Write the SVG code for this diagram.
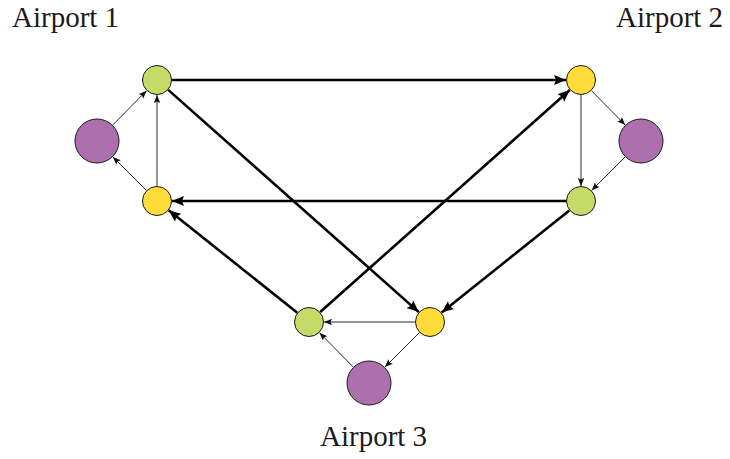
<svg xmlns="http://www.w3.org/2000/svg" width="730" height="459" viewBox="0 0 730 459">
  <style>
    .label { font-family: "Liberation Serif", "DejaVu Serif", serif; font-size: 29px; fill: #1a1a1a; }
    .node circle { stroke: #1a1a1a; stroke-width: 1; }
    .green { fill: #c6da6a; }
    .yellow { fill: #ffdc3a; }
    .purple { fill: #ae70ad; }
    .thin { stroke: #111; stroke-width: 0.9; fill: none; marker-end: url(#headThin); }
    .thick { stroke: #000; stroke-width: 2.6; fill: none; marker-end: url(#headThick); }
  </style>
  <defs>
    <marker id="headThin" markerUnits="userSpaceOnUse" markerWidth="9" markerHeight="7" refX="8" refY="3.25" orient="auto">
      <path d="M0,0 L8,3.25 L0,6.5 L1.5,3.25 z" fill="#111"/>
    </marker>
    <marker id="headThick" markerUnits="userSpaceOnUse" markerWidth="13" markerHeight="11" refX="12" refY="5" orient="auto">
      <path d="M0,0 L12,5 L0,10 L2,5 z" fill="#000"/>
    </marker>
  </defs>

  <g id="connectors">
    <!-- intra-airport links -->
    <line class="thin" x1="112.8" y1="125.0" x2="146.5" y2="90.7"/>
    <line class="thin" x1="146.4" y1="190.4" x2="112.9" y2="156.9"/>
    <line class="thin" x1="157" y1="186" x2="157" y2="95"/>
    <line class="thin" x1="591.5" y1="90.7" x2="625.2" y2="125.0"/>
    <line class="thin" x1="625.1" y1="156.9" x2="591.6" y2="190.4"/>
    <line class="thin" x1="581" y1="95" x2="581" y2="186"/>
    <line class="thin" x1="415" y1="322" x2="324" y2="322"/>
    <line class="thin" x1="419.4" y1="332.6" x2="384.9" y2="367.1"/>
    <line class="thin" x1="353.2" y1="367.0" x2="319.5" y2="332.7"/>
    <!-- inter-airport links -->
    <line class="thick" x1="172" y1="80" x2="566" y2="80"/>
    <line class="thick" x1="168.2" y1="89.9" x2="418.8" y2="312.1"/>
    <line class="thick" x1="566" y1="201" x2="172" y2="201"/>
    <line class="thick" x1="569.3" y1="210.4" x2="441.7" y2="312.6"/>
    <line class="thick" x1="297.3" y1="312.7" x2="168.7" y2="210.3"/>
    <line class="thick" x1="320.2" y1="312.0" x2="569.8" y2="90.0"/>
  </g>

  <g id="airport1-out" class="node"><circle class="green" cx="157" cy="80" r="14.5"/></g>
  <g id="airport1-hub" class="node"><circle class="purple" cx="97" cy="141" r="22"/></g>
  <g id="airport1-in" class="node"><circle class="yellow" cx="157" cy="201" r="14.5"/></g>

  <g id="airport2-in" class="node"><circle class="yellow" cx="581" cy="80" r="14.5"/></g>
  <g id="airport2-hub" class="node"><circle class="purple" cx="641" cy="141" r="22"/></g>
  <g id="airport2-out" class="node"><circle class="green" cx="581" cy="201" r="14.5"/></g>

  <g id="airport3-out" class="node"><circle class="green" cx="309" cy="322" r="14.5"/></g>
  <g id="airport3-in" class="node"><circle class="yellow" cx="430" cy="322" r="14.5"/></g>
  <g id="airport3-hub" class="node"><circle class="purple" cx="369" cy="383" r="22"/></g>

  <text class="label" x="12" y="27">Airport 1</text>
  <text class="label" x="616" y="27">Airport 2</text>
  <text class="label" x="320" y="446">Airport 3</text>
</svg>
